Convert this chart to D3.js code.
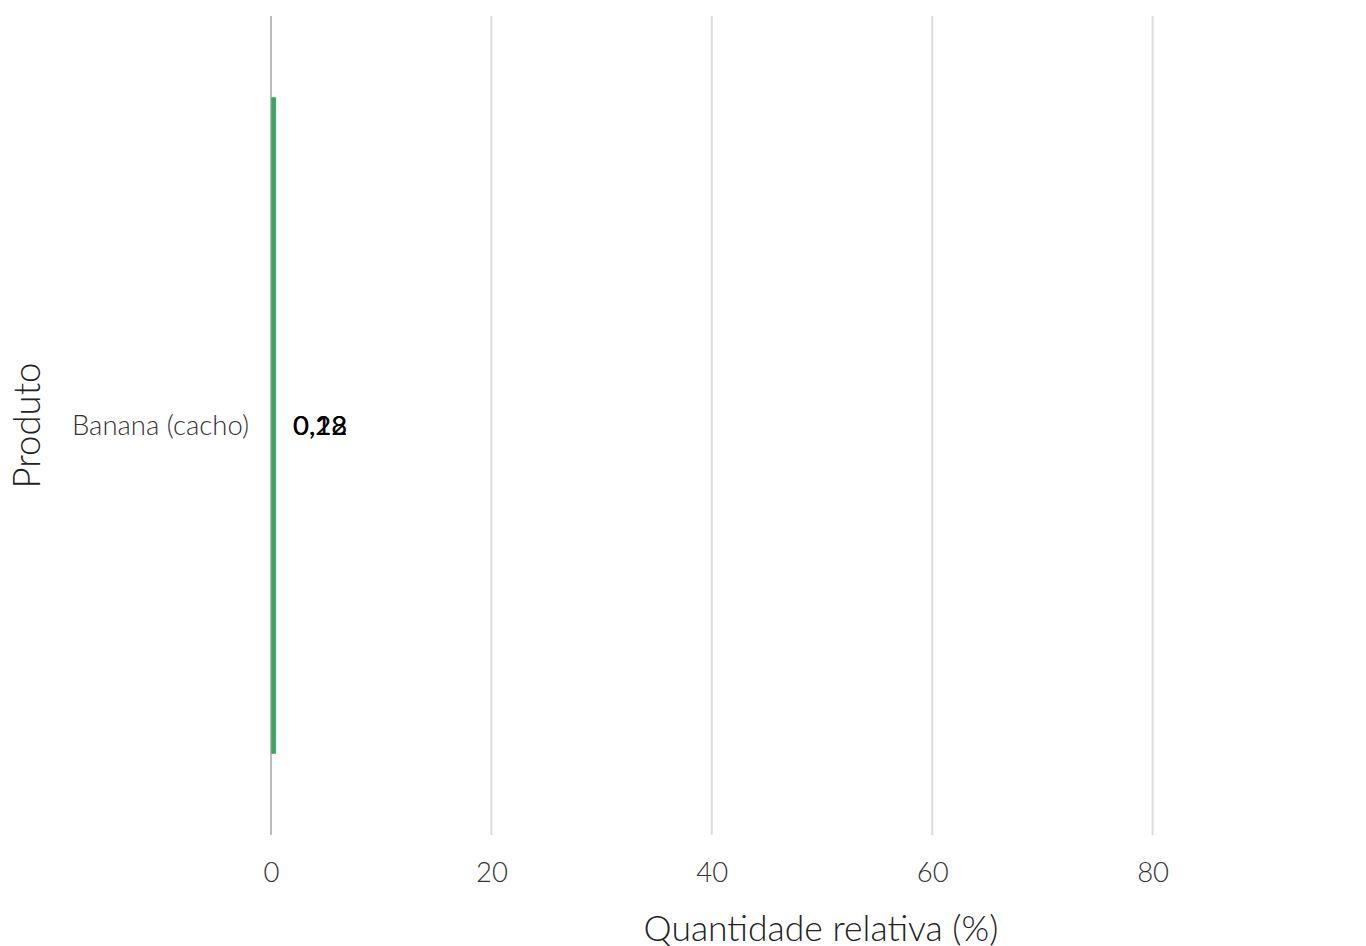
<!DOCTYPE html>
<html>
<head>
<meta charset="utf-8">
<script src="https://cdn.jsdelivr.net/npm/d3@7"></script>
<style>
  html, body { margin: 0; padding: 0; background: #fff; }
  svg { display: block; font-family: Lato, "Open Sans", sans-serif; }
</style>
</head>
<body>
<svg id="chart" width="1366" height="946"></svg>
<script>
const categories = ["Banana (cacho)"];
const seriesValues = [0.12, 0.28];
const seriesLabels = ["0,12", "0,28"];
const xTicks = [0, 20, 40, 60, 80];
const xTitle = "Quantidade relativa (%)";
const yTitle = "Produto";

(function () {
const svg = d3.select("#chart");
const plotLeft = 271, plotTop = 16, plotBottom = 835;
const x = d3.scaleLinear().domain([0, 98]).range([plotLeft, plotLeft + 98 * 11.02]);
const y = d3.scaleBand().domain(categories).range([plotTop, plotBottom]).paddingInner(0.2).paddingOuter(0.1);

// gridlines
svg.append("g").selectAll("line").data(xTicks.filter(d => d !== 0)).join("line")
  .attr("x1", d => x(d)).attr("x2", d => x(d))
  .attr("y1", plotTop).attr("y2", plotBottom)
  .attr("stroke", "#dcdcdc").attr("stroke-width", 2);

// zero line
svg.append("line")
  .attr("x1", x(0)).attr("x2", x(0)).attr("y1", plotTop).attr("y2", plotBottom)
  .attr("stroke", "#bdbdbd").attr("stroke-width", 2);

// bars
const bars = svg.append("g");
seriesValues.forEach(v => {
  bars.append("rect")
    .attr("x", x(0) + 1)
    .attr("y", y(categories[0]))
    .attr("width", x(v) - x(0) + 0.5)
    .attr("height", y.bandwidth())
    .attr("fill", "#3fa463")
    .attr("stroke", "#3fa463")
    .attr("stroke-width", 1);
});

// value labels
svg.append("g").selectAll("text").data(seriesLabels).join("text")
  .attr("x", x(0) + 22)
  .attr("y", y(categories[0]) + y.bandwidth() / 2)
  .attr("dy", "0.35em")
  .attr("font-size", 27.5)
  .attr("fill", "#000")
  .text(d => d);

// category labels
svg.append("g").selectAll("text").data(categories).join("text")
  .attr("x", 249)
  .attr("y", d => y(d) + y.bandwidth() / 2)
  .attr("dy", "0.35em")
  .attr("text-anchor", "end")
  .attr("font-size", 27.5)
  .attr("font-weight", 300)
  .attr("fill", "#333")
  .text(d => d);

// x axis tick labels
const xAxis = d3.axisBottom(x).tickValues(xTicks).tickSize(0).tickPadding(0).tickFormat(d3.format("d"));
const gx = svg.append("g").attr("transform", `translate(0, 872)`).call(xAxis);
gx.select(".domain").remove();
gx.selectAll("text")
  .attr("dy", "0.35em").attr("y", 0)
  .attr("font-family", "Lato, sans-serif")
  .attr("font-size", 27.5)
  .attr("font-weight", 300)
  .attr("fill", "#333");

// axis titles
svg.append("text")
  .attr("x", 821).attr("y", 929)
  .attr("dy", "0.35em")
  .attr("text-anchor", "middle")
  .attr("font-size", 35.5)
  .attr("font-weight", 300)
  .attr("fill", "#222")
  .text(xTitle);

svg.append("text")
  .attr("transform", `translate(27, ${y(categories[0]) + y.bandwidth() / 2}) rotate(-90)`)
  .attr("dy", "0.35em")
  .attr("text-anchor", "middle")
  .attr("font-size", 36.5)
  .attr("font-weight", 300)
  .attr("fill", "#222")
  .text(yTitle);
})();
</script>
</body>
</html>
